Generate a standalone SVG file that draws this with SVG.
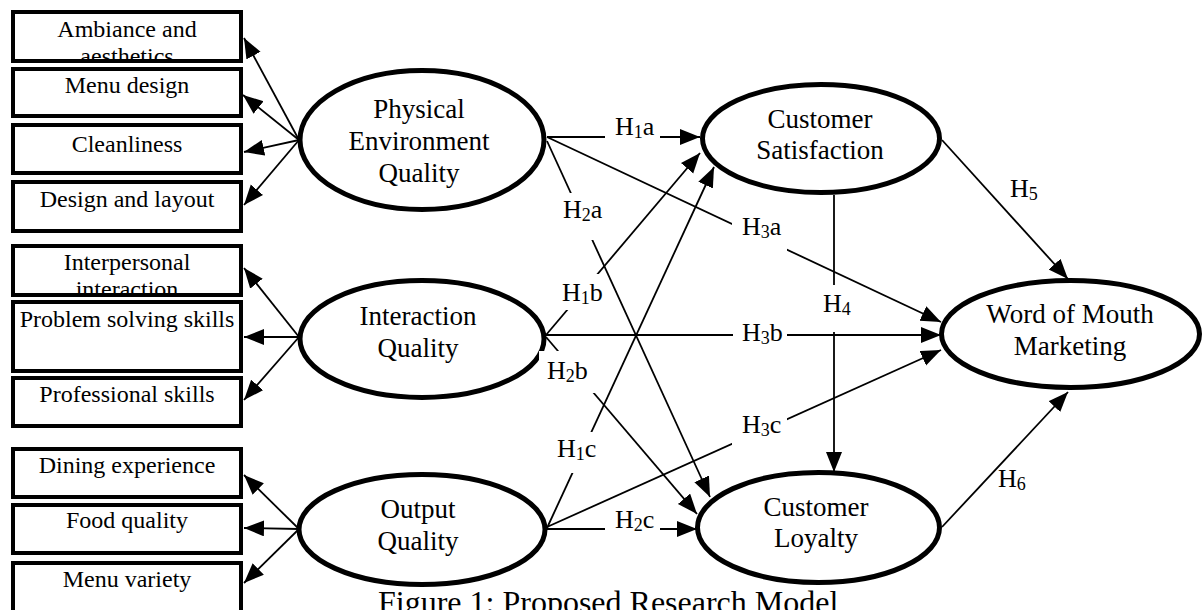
<svg xmlns="http://www.w3.org/2000/svg" width="1204" height="610" viewBox="0 0 1204 610">
<style>
text{font-family:"Liberation Serif","Times New Roman",serif;fill:#000}
.box{fill:#fff;stroke:#000;stroke-width:4}
.ell{fill:#fff;stroke:#000;stroke-width:5}
.ln{stroke:#000;stroke-width:1.8;fill:none;marker-end:url(#ah)}
.bt{font-size:24px;text-anchor:middle}
.et{font-size:27px;text-anchor:middle}
.hl{font-size:26px}
.sub{font-size:18px}
.bg{fill:#fff;stroke:none}
</style>
<defs>
<marker id="ah" markerUnits="userSpaceOnUse" markerWidth="22" markerHeight="18" refX="20" refY="8" orient="auto">
<path d="M0,0 L20,8 L0,16 z" fill="#000"/>
</marker>
<clipPath id="c1"><rect x="15" y="14" width="224" height="45"/></clipPath>
<clipPath id="c5"><rect x="15" y="248" width="224" height="45"/></clipPath>
</defs>

<g id="box-ambiance"><rect class="box" x="13" y="12" width="228" height="49"/><g clip-path="url(#c1)"><text class="bt" x="127" y="37">Ambiance and</text><text class="bt" x="127" y="64">aesthetics</text></g></g>
<g id="box-menu-design"><rect class="box" x="13" y="69" width="228" height="47"/><text class="bt" x="127" y="93">Menu design</text></g>
<g id="box-cleanliness"><rect class="box" x="13" y="125" width="228" height="48"/><text class="bt" x="127" y="152">Cleanliness</text></g>
<g id="box-design-layout"><rect class="box" x="13" y="182" width="228" height="49"/><text class="bt" x="127" y="207">Design and layout</text></g>
<g id="box-interpersonal"><rect class="box" x="13" y="246" width="228" height="49"/><g clip-path="url(#c5)"><text class="bt" x="127" y="270">Interpersonal</text><text class="bt" x="127" y="297">interaction</text></g></g>
<g id="box-problem-solving"><rect class="box" x="13" y="302" width="228" height="69"/><text class="bt" x="127" y="327">Problem solving skills</text></g>
<g id="box-professional"><rect class="box" x="13" y="378" width="228" height="48"/><text class="bt" x="127" y="402">Professional skills</text></g>
<g id="box-dining"><rect class="box" x="13" y="449" width="228" height="48"/><text class="bt" x="127" y="473">Dining experience</text></g>
<g id="box-food"><rect class="box" x="13" y="505" width="228" height="48"/><text class="bt" x="127" y="528">Food quality</text></g>
<g id="box-menu-variety"><rect class="box" x="13" y="563" width="228" height="52"/><text class="bt" x="127" y="587">Menu variety</text></g>

<g id="node-physical"><ellipse class="ell" cx="422" cy="140" rx="122" ry="69.5"/><text class="et" x="419" y="118">Physical</text><text class="et" x="419" y="150">Environment</text><text class="et" x="419" y="182">Quality</text></g>
<g id="node-interaction"><ellipse class="ell" cx="422" cy="339" rx="122" ry="58.5"/><text class="et" x="418" y="325">Interaction</text><text class="et" x="418" y="357">Quality</text></g>
<g id="node-output"><ellipse class="ell" cx="422" cy="529.5" rx="123" ry="55"/><text class="et" x="418" y="518">Output</text><text class="et" x="418" y="550">Quality</text></g>
<g id="node-satisfaction"><ellipse class="ell" cx="821" cy="138.5" rx="118.5" ry="54"/><text class="et" x="820" y="128">Customer</text><text class="et" x="820" y="159">Satisfaction</text></g>
<g id="node-loyalty"><ellipse class="ell" cx="818.5" cy="527.5" rx="121" ry="55"/><text class="et" x="816" y="516">Customer</text><text class="et" x="816" y="547">Loyalty</text></g>
<g id="node-wom"><ellipse class="ell" cx="1070.5" cy="334" rx="129" ry="53.5"/><text class="et" x="1070" y="323">Word of Mouth</text><text class="et" x="1070" y="355">Marketing</text></g>

<g id="connectors">
<line class="ln" x1="299" y1="140" x2="244" y2="38"/>
<line class="ln" x1="299" y1="140" x2="243" y2="95"/>
<line class="ln" x1="299" y1="140" x2="244" y2="152"/>
<line class="ln" x1="299" y1="140" x2="244" y2="205"/>
<line class="ln" x1="299" y1="337" x2="244" y2="268"/>
<line class="ln" x1="299" y1="337" x2="244" y2="337"/>
<line class="ln" x1="299" y1="337" x2="244" y2="400"/>
<line class="ln" x1="299" y1="529" x2="244" y2="475"/>
<line class="ln" x1="299" y1="529" x2="244" y2="528"/>
<line class="ln" x1="299" y1="529" x2="244" y2="583"/>
<line class="ln" x1="547" y1="137" x2="700" y2="137"/>
<line class="ln" x1="547" y1="141" x2="710" y2="497"/>
<line class="ln" x1="547" y1="137" x2="941" y2="322"/>
<line class="ln" x1="546" y1="335" x2="700" y2="153"/>
<line class="ln" x1="546" y1="337" x2="697" y2="514"/>
<line class="ln" x1="546" y1="335" x2="941" y2="335"/>
<line class="ln" x1="547" y1="528" x2="714" y2="167"/>
<line class="ln" x1="547" y1="529" x2="697" y2="529"/>
<line class="ln" x1="547" y1="527" x2="941" y2="350"/>
<line class="ln" x1="834" y1="195" x2="834" y2="472"/>
<line class="ln" x1="942" y1="140" x2="1068" y2="279"/>
<line class="ln" x1="942" y1="527" x2="1068" y2="392"/>
</g>

<g id="labels">
<rect class="bg" x="605" y="114" width="55" height="30"/><text class="hl" x="615" y="135">H<tspan class="sub" dy="3">1</tspan><tspan dy="-3">a</tspan></text>
<rect class="bg" x="555" y="193" width="55" height="47"/><text class="hl" x="563" y="218">H<tspan class="sub" dy="3">2</tspan><tspan dy="-3">a</tspan></text>
<rect class="bg" x="556" y="274" width="47" height="36"/><text class="hl" x="562" y="301">H<tspan class="sub" dy="3">1</tspan><tspan dy="-3">b</tspan></text>
<rect class="bg" x="539" y="351" width="57" height="42"/><text class="hl" x="547" y="379">H<tspan class="sub" dy="3">2</tspan><tspan dy="-3">b</tspan></text>
<rect class="bg" x="552" y="432" width="48" height="41"/><text class="hl" x="557" y="457">H<tspan class="sub" dy="3">1</tspan><tspan dy="-3">c</tspan></text>
<rect class="bg" x="605" y="508" width="55" height="28"/><text class="hl" x="615" y="528">H<tspan class="sub" dy="3">2</tspan><tspan dy="-3">c</tspan></text>
<rect class="bg" x="732" y="208" width="55" height="44"/><text class="hl" x="742" y="235">H<tspan class="sub" dy="3">3</tspan><tspan dy="-3">a</tspan></text>
<rect class="bg" x="733" y="318" width="54" height="30"/><text class="hl" x="742" y="341">H<tspan class="sub" dy="3">3</tspan><tspan dy="-3">b</tspan></text>
<rect class="bg" x="732" y="412" width="55" height="38"/><text class="hl" x="742" y="433">H<tspan class="sub" dy="3">3</tspan><tspan dy="-3">c</tspan></text>
<rect class="bg" x="815" y="285" width="40" height="47"/><text class="hl" x="823" y="312">H<tspan class="sub" dy="3">4</tspan></text>
<text class="hl" x="1010" y="197">H<tspan class="sub" dy="3">5</tspan></text>
<text class="hl" x="998" y="487">H<tspan class="sub" dy="3">6</tspan></text>
</g>

<text id="caption" x="378" y="613" style="font-size:32px">Figure 1: Proposed Research Model</text>
</svg>
